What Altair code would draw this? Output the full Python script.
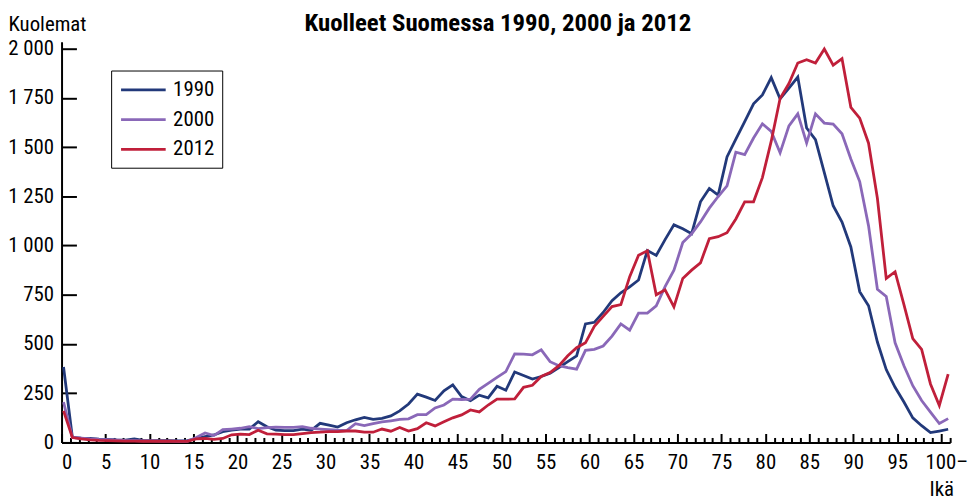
import altair as alt
import pandas as pd

ages = list(range(0, 101))
deaths_1990 = [383, 25, 22, 20, 17, 15, 13, 12, 18, 11,
               9, 9, 9, 8, 9, 20, 30, 38, 55, 62,
               68, 68, 105, 80, 62, 60, 60, 68, 62, 97,
               88, 78, 100, 115, 127, 117, 122, 135, 160, 195,
               245, 230, 213, 262, 292, 233, 212, 240, 226, 285,
               265, 358, 340, 322, 335, 352, 380, 410, 440, 602,
               610, 660, 720, 760, 790, 825, 975, 950, 1030, 1105,
               1085, 1060, 1222, 1290, 1256, 1450, 1540, 1630, 1720, 1765,
               1853, 1745, 1800, 1856, 1597, 1538, 1370, 1202, 1119, 993,
               766, 694, 510, 370, 280, 205, 125, 85, 50, 58,
               67]
deaths_2000 = [205, 25, 22, 18, 15, 14, 12, 10, 9, 8,
               8, 7, 7, 6, 6, 25, 48, 35, 65, 68,
               72, 80, 70, 75, 78, 76, 76, 80, 72, 68,
               65, 62, 60, 95, 85, 95, 104, 110, 117, 120,
               141, 141, 175, 190, 220, 218, 220, 270, 300, 330,
               360, 450, 448, 445, 470, 410, 390, 380, 372, 468,
               473, 490, 540, 602, 570, 657, 657, 694, 791, 875,
               1015, 1060, 1120, 1190, 1249, 1303, 1474, 1462, 1546, 1618,
               1580, 1471, 1608, 1669, 1521, 1669, 1622, 1617, 1568, 1440,
               1325, 1100, 778, 741, 506, 389, 288, 213, 154, 96,
               121]
deaths_2012 = [160, 25, 18, 13, 10, 9, 8, 7, 7, 6,
               6, 6, 6, 5, 5, 18, 20, 15, 20, 39,
               42, 40, 62, 44, 42, 40, 40, 45, 50, 52,
               55, 55, 58, 58, 52, 52, 68, 57, 76, 58,
               70, 100, 84, 105, 125, 140, 165, 155, 190, 220,
               220, 221, 280, 290, 335, 355, 390, 440, 481, 506,
               590, 640, 690, 700, 842, 951, 973, 750, 775, 688,
               833, 875, 912, 1035, 1045, 1065, 1135, 1222, 1222, 1345,
               1530, 1747, 1823, 1927, 1944, 1927, 1998, 1916, 1949, 1702,
               1647, 1520, 1240, 833, 867, 700, 527, 473, 297, 188,
               347]
years = ["1990", "2000", "2012"]
colors = ["#22397a", "#8a68b8", "#c01f3a"]
x_ticks = list(range(0, 102))
x_labels = list(range(0, 101, 5))
y_ticks = list(range(0, 2001, 250))

FONT = "Roboto Condensed, Open Sans Condensed, DejaVu Sans Condensed, sans-serif"
FS = 21
W, H = 896, 404

rows = []
for yr, vals in zip(years, [deaths_1990, deaths_2000, deaths_2012]):
    for a, v in zip(ages, vals):
        rows.append({"age": a, "deaths": v, "year": yr})
df = pd.DataFrame(rows)
xt_df = pd.DataFrame({"t": x_ticks})
yt_df = pd.DataFrame({"v": y_ticks})

y_scale = alt.Scale(domain=[0, 2035], nice=False, zero=True)
tick_scale = alt.Scale(domain=[0, 101], nice=False, zero=False)

lines = alt.Chart(df).mark_line(strokeWidth=2.8).encode(
    x=alt.X("age:Q", scale=alt.Scale(domain=[-0.224, 100.224], nice=False, zero=False), axis=None),
    y=alt.Y("deaths:Q", scale=y_scale,
            axis=alt.Axis(values=y_ticks, ticks=False, grid=False,
                          domainColor="black", domainWidth=2,
                          labelExpr="datum.value >= 1000 ? floor(datum.value/1000) + ' ' + format(datum.value % 1000, '03d') : datum.label",
                          labelFontSize=FS, labelPadding=8, labelColor="black",
                          title="Kuolemat", titleAngle=0, titleAlign="left",
                          titleX=-54, titleY=-11, titleBaseline="alphabetic",
                          titleFontWeight="normal", titleFontSize=FS, titleColor="black")),
    color=alt.Color("year:N", scale=alt.Scale(domain=years, range=colors),
                    legend=alt.Legend(title=None, orient="none", legendX=50, legendY=29,
                                      strokeColor="black", fillColor="white", padding=8,
                                      symbolType="M-2.25,0H2.25", symbolSize=400,
                                      symbolStrokeWidth=3, symbolOffset=13,
                                      rowPadding=8,
                                      labelFontSize=FS, labelColor="black", labelOffset=18.5))
)

xlab = alt.Chart(xt_df).mark_point(opacity=0).encode(
    x=alt.X("t:Q", scale=tick_scale,
            axis=alt.Axis(orient="bottom", values=x_labels, ticks=False, grid=False,
                          domainColor="black", domainWidth=2,
                          labelExpr="datum.value == 100 ? '100–' : datum.label",
                          labelOffset={"condition": {"test": "datum.value == 100", "value": 5}, "value": 0},
                          labelFontSize=FS, labelPadding=9, labelColor="black",
                          title="Ikä", titleX=887, titleY=54, titleBaseline="alphabetic",
                          titleFontWeight="normal", titleFontSize=FS, titleColor="black"))
)

xtick = alt.Chart(xt_df).mark_point(opacity=0).encode(
    x=alt.X("t:Q", scale=tick_scale,
            axis=alt.Axis(orient="top", offset=-H, values=x_ticks, labels=False, domain=False,
                          grid=False, tickColor="black", tickWidth=2,
                          tickSize={"condition": {"test": "datum.value % 5 === 0", "value": 9}, "value": 5},
                          title=None))
)

ytick = alt.Chart(yt_df).mark_point(opacity=0).encode(
    y=alt.Y("v:Q", scale=y_scale,
            axis=alt.Axis(orient="right", offset=-W, values=y_ticks, labels=False, domain=False,
                          grid=False, tickColor="black", tickWidth=2, tickSize=15, title=None))
)

chart = alt.layer(lines, xlab, xtick, ytick).resolve_scale(
    x="independent", y="independent"
).resolve_axis(
    x="independent", y="independent"
).properties(
    width=W, height=H,
    autosize="none",
    padding={"left": 54, "top": 32, "right": 18, "bottom": 56},
    title=alt.Title("Kuolleet Suomessa 1990, 2000 ja 2012", fontSize=25, fontWeight="bold",
                    anchor="middle", frame="group", dx=-8, dy=42, offset=0,
                    baseline="alphabetic", color="black"),
).configure(font=FONT).configure_view(stroke=None)

chart.save("out.html", embed_options={"renderer": "svg", "actions": False})
